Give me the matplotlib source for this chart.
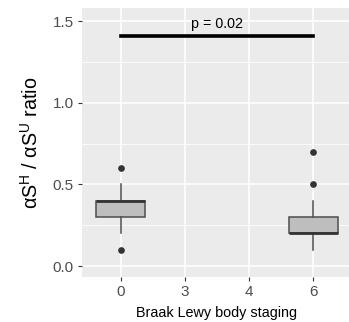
import matplotlib
matplotlib.use("Agg")
import matplotlib.pyplot as plt

plt.rcParams['font.family'] = ['Liberation Sans', 'DejaVu Sans']
plt.rcParams['mathtext.default'] = 'regular'

stages = ['0', '3', '4', '6']
# box summaries (stages 3 and 4 have no data)
box_stages = ['0', '6']
q1 = [0.3, 0.2]
med = [0.4, 0.2]
q3 = [0.4, 0.3]
whis_lo = [0.2, 0.1]
whis_hi = [0.5, 0.4]
outliers = [[0.6, 0.1], [0.7, 0.5]]
p_label = 'p = 0.02'
p_y = 1.41

fig = plt.figure(figsize=(3.49, 3.22), dpi=100)
ax = fig.add_axes([82 / 349, 1 - 277 / 322, 270 / 349, 269 / 322])
ax.set_facecolor('#ebebeb')

pos = {s: i + 1 for i, s in enumerate(stages)}
stats = []
for i, s in enumerate(box_stages):
    stats.append(dict(med=med[i], q1=q1[i], q3=q3[i], whislo=whis_lo[i],
                      whishi=whis_hi[i], fliers=outliers[i]))
ax.bxp(stats, positions=[pos[s] for s in box_stages], widths=0.75,
       patch_artist=True, showcaps=False,
       boxprops=dict(facecolor='#bebebe', edgecolor='#4d4d4d', linewidth=1.1),
       medianprops=dict(color='#333333', linewidth=2),
       whiskerprops=dict(color='#4d4d4d', linewidth=1.1),
       flierprops=dict(marker='o', markersize=3.8, markerfacecolor='#333333',
                       markeredgecolor='#333333'),
       zorder=3)

ax.plot([pos['0'], pos['6']], [p_y, p_y], color='black', lw=2.6, zorder=4)
ax.text((pos['0'] + pos['6']) / 2, p_y + 0.028, p_label, ha='center',
        va='bottom', fontsize=10.3, color='black')

ax.set_xlim(0.4, 4.6)
ax.set_ylim(-0.067, 1.58)
ax.set_xticks([pos[s] for s in stages])
ax.set_xticklabels(stages)
ax.set_yticks([0.0, 0.5, 1.0, 1.5])
ax.set_yticklabels(['0.0', '0.5', '1.0', '1.5'])
ax.set_yticks([0.25, 0.75, 1.25], minor=True)

ax.grid(True, which='major', color='white', lw=1.1, zorder=0)
ax.grid(True, which='minor', axis='y', color='white', lw=0.55, zorder=0)
ax.set_axisbelow(True)
for sp in ax.spines.values():
    sp.set_visible(False)
ax.tick_params(which='major', length=3, width=0.8, color='#333333',
               labelcolor='#4d4d4d', labelsize=11, pad=3)
ax.tick_params(which='minor', length=0)

ax.set_xlabel('Braak Lewy body staging', fontsize=10.4, labelpad=5)
ax.set_ylabel('αS$^{H}$ / αS$^{U}$ ratio', fontsize=14.2, labelpad=8)

fig.savefig('out.png', dpi=100)
